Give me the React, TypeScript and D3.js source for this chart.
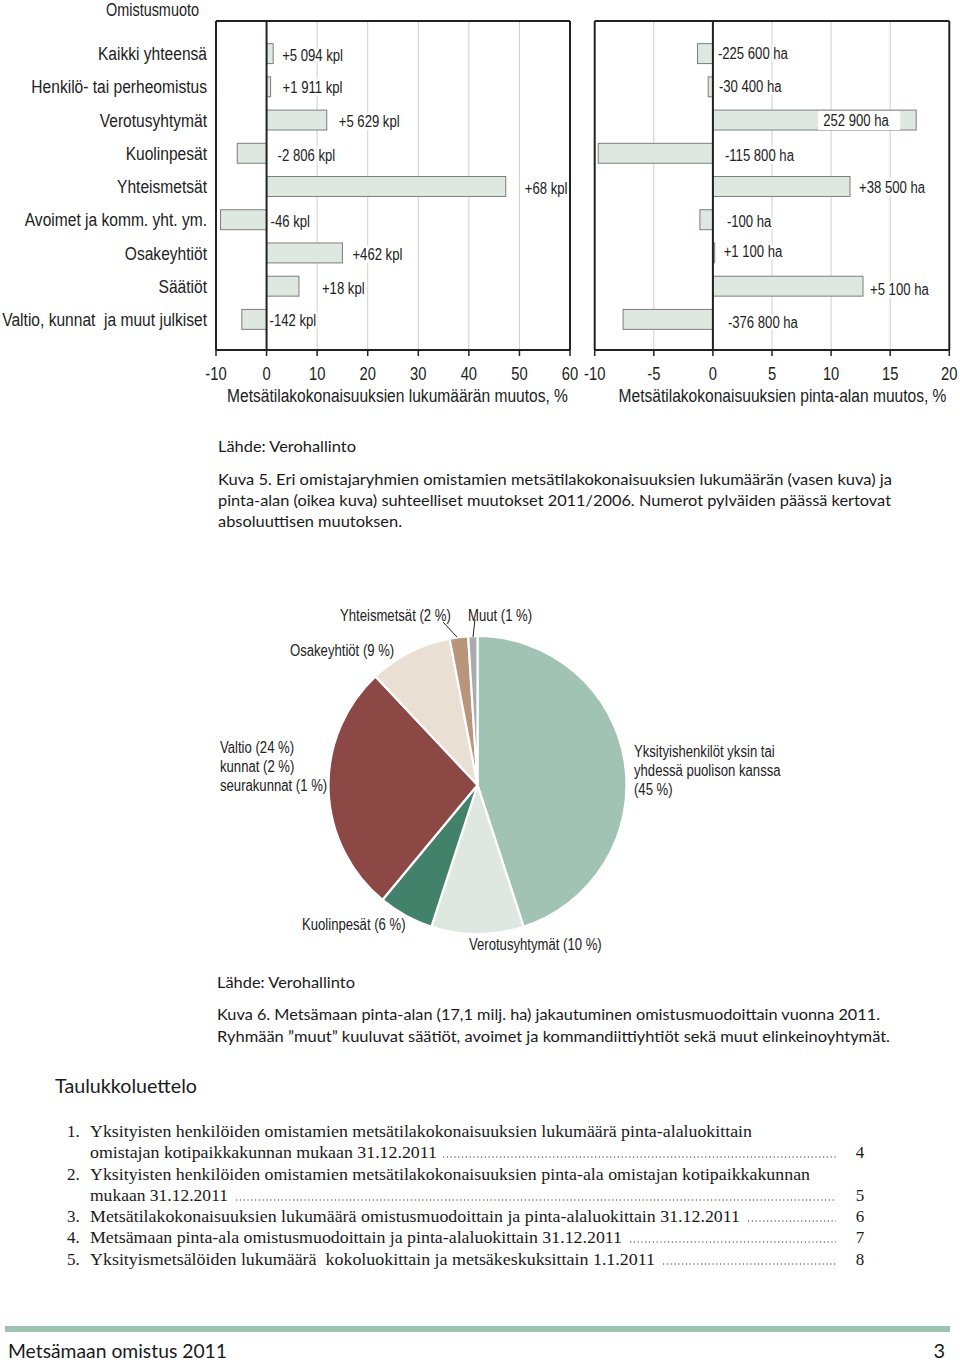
import React from 'react';
import * as d3 from 'd3';

// ---------- DATA ----------
const categories = [
  'Kaikki yhteensä',
  'Henkilö- tai perheomistus',
  'Verotusyhtymät',
  'Kuolinpesät',
  'Yhteismetsät',
  'Avoimet ja komm. yht. ym.',
  'Osakeyhtiöt',
  'Säätiöt',
  'Valtio, kunnat  ja muut julkiset',
];
const countChangePct = [1.3, 0.8, 11.9, -5.8, 47.3, -9.1, 15.0, 6.4, -4.9];
const countChangeLabels = ['+5 094 kpl', '+1 911 kpl', '+5 629 kpl', '-2 806 kpl', '+68 kpl', '-46 kpl', '+462 kpl', '+18 kpl', '-142 kpl'];
const areaChangePct = [-1.3, -0.4, 17.2, -9.7, 11.6, -1.1, 0.15, 12.7, -7.6];
const areaChangeLabels = ['-225 600 ha', '-30 400 ha', '252 900 ha', '-115 800 ha', '+38 500 ha', '-100 ha', '+1 100 ha', '+5 100 ha', '-376 800 ha'];
const countTicks = [-10, 0, 10, 20, 30, 40, 50, 60];
const areaTicks = [-10, -5, 0, 5, 10, 15, 20];

const pieNames = ['Yksityishenkilöt', 'Verotusyhtymät', 'Kuolinpesät', 'Valtio, kunnat, seurakunnat', 'Osakeyhtiöt', 'Yhteismetsät', 'Muut'];
const pieShares = [45, 10, 6, 27, 9, 2, 1];

const listItems = [
  ['1.', 'Yksityisten henkilöiden omistamien metsätilakokonaisuuksien lukumäärä pinta-alaluokittain', 'omistajan kotipaikkakunnan mukaan 31.12.2011', '4'],
  ['2.', 'Yksityisten henkilöiden omistamien metsätilakokonaisuuksien pinta-ala omistajan kotipaikkakunnan', 'mukaan 31.12.2011', '5'],
  ['3.', 'Metsätilakokonaisuuksien lukumäärä omistusmuodoittain ja pinta-alaluokittain 31.12.2011', '', '6'],
  ['4.', 'Metsämaan pinta-ala omistusmuodoittain ja pinta-alaluokittain 31.12.2011', '', '7'],
  ['5.', 'Yksityismetsälöiden lukumäärä  kokoluokittain ja metsäkeskuksittain 1.1.2011', '', '8'],
];

// ---------- STYLE / LAYOUT ----------
const SANS = "'Liberation Sans', Arial, sans-serif";
const NARROW_SX = 0.82;
const HUMAN = "Lato, 'Open Sans', sans-serif";
const SERIF = "'Liberation Serif', 'Times New Roman', serif";
const pieColors = ['#a0c3b3', '#dfe7e1', '#43826a', '#8b4844', '#eadfd3', '#b9957b', '#a9abae'];
const barFill = '#dfe8e0';
const barStroke = '#7d7d7d';
const gridColor = '#cfcfcf';
const axisColor = '#222';

// label nudges (px) relative to bar end (positive) or zero line (negative)
const leftDx = [9, 12, 12, 11, 19, 4, 10, 23, 3];
const leftDy = [2, 1, 1, 2, 1.5, 1.5, 1.3, 2, 1];
const rightDx = [5, 6, -93, 12, 9, 14, 9, 7, 15];
const rightDy = [0, -0.5, 0, 2, 0.5, 1.5, -1.5, 3, 3];

const W = 960;
const H = 1362;
const plotTop = 21;
const plotBottom = 350;

// narrow (condensed) sans text
function N({ x, y, size = 16, anchor, children, halo }: any) {
  return (
    <text transform={`translate(${x},${y}) scale(${NARROW_SX},1)`} dy="0.35em" fontFamily={SANS} fontSize={size}
      fill="#222" textAnchor={anchor} stroke={halo ? '#fff' : 'none'} strokeWidth={halo ? 5 : 0} paintOrder="stroke"
      style={{ whiteSpace: 'pre' }}>
      {children}
    </text>
  );
}

function BarPanel({ x0, x1, ticks, values, labels, dx, dy, title, titleX, insideIdx }: any) {
  const x = d3.scaleLinear().domain([ticks[0], ticks[ticks.length - 1]]).range([x0, x1]);
  const y = d3.scaleBand<string>().domain(categories).range([37, 336]).paddingInner(0.4).paddingOuter(0.2);
  const bw = y.bandwidth();
  const zero = x(0);
  return (
    <g>
      {ticks.slice(1, -1).filter((t: number) => t !== 0).map((t: number) => (
        <line key={'g' + t} x1={x(t)} x2={x(t)} y1={plotTop} y2={plotBottom} stroke={gridColor} strokeWidth={1} />
      ))}
      {values.map((v: number, i: number) => {
        const c = categories[i];
        const xa = Math.min(x(v), zero);
        const w = Math.abs(x(v) - zero);
        return <rect key={'b' + i} x={xa} y={y(c)} width={Math.max(w, 0.6)} height={bw} fill={barFill} stroke={barStroke} strokeWidth={1} />;
      })}
      {values.map((v: number, i: number) => {
        const c = categories[i];
        const lx = (v > 0 ? x(v) : zero) + dx[i];
        const ly = (y(c) as number) + bw / 2 + dy[i];
        const inside = i === insideIdx;
        return (
          <g key={'l' + i}>
            {inside && <rect x={lx - 5} y={(y(c) as number) + 1} width={82} height={bw - 1} fill="#fff" />}
            <N x={lx} y={ly} size={16} halo={!inside}>{labels[i]}</N>
          </g>
        );
      })}
      {/* frame */}
      <line x1={x0} x2={x1} y1={plotTop} y2={plotTop} stroke={axisColor} strokeWidth={2} />
      <line x1={x0} x2={x0} y1={plotTop} y2={plotBottom} stroke={axisColor} strokeWidth={2} />
      <line x1={x1} x2={x1} y1={plotTop} y2={plotBottom} stroke={axisColor} strokeWidth={2} />
      <line x1={zero} x2={zero} y1={plotTop} y2={plotBottom} stroke={axisColor} strokeWidth={2} />
      <line x1={x0} x2={x1} y1={plotBottom} y2={plotBottom} stroke={axisColor} strokeWidth={2} />
      {ticks.map((t: number) => (
        <g key={'t' + t}>
          <line x1={x(t)} x2={x(t)} y1={plotBottom} y2={plotBottom + 6} stroke={axisColor} strokeWidth={1.5} />
          <N x={x(t)} y={374} size={18} anchor="middle">{t}</N>
        </g>
      ))}
      <N x={titleX} y={395} size={19} anchor="middle">{title}</N>
    </g>
  );
}

function Pie() {
  const cx = 477.5;
  const cy = 785;
  const r = 149;
  const arcs = d3.pie<number>().sort(null).value((d) => d)(pieShares);
  const arc = d3.arc<any>().innerRadius(0).outerRadius(r);
  return (
    <g>
      <g transform={`translate(${cx},${cy})`}>
        {arcs.map((a, i) => (
          <path key={pieNames[i]} d={arc(a) as string} fill={pieColors[i]} stroke="#fff" strokeWidth={2.2} strokeLinejoin="round" />
        ))}
      </g>
      <N x={340} y={615}>Yhteismetsät (2 %)</N>
      <N x={468} y={615}>Muut (1 %)</N>
      <line x1={443} y1={622} x2={457} y2={637} stroke="#222" strokeWidth={1} />
      <line x1={475} y1={619} x2={473} y2={637} stroke="#222" strokeWidth={1} />
      <N x={290} y={650}>Osakeyhtiöt (9 %)</N>
      <N x={220} y={747}>Valtio (24 %)</N>
      <N x={220} y={766}>kunnat (2 %)</N>
      <N x={220} y={785}>seurakunnat (1 %)</N>
      <N x={634} y={751}>Yksityishenkilöt yksin tai</N>
      <N x={634} y={770}>yhdessä puolison kanssa</N>
      <N x={634} y={789}>(45 %)</N>
      <N x={302} y={924}>Kuolinpesät (6 %)</N>
      <N x={469} y={944}>Verotusyhtymät (10 %)</N>
    </g>
  );
}

function T({ x, y, len, size = 16, fam = HUMAN, children, anchor }: any) {
  return (
    <text x={x} y={y} dy="0.35em" fontFamily={fam} fontSize={size} fill="#1a1a1a" textAnchor={anchor}
      textLength={len} lengthAdjust={len ? 'spacingAndGlyphs' : undefined} style={{ whiteSpace: 'pre' }}>
      {children}
    </text>
  );
}

export default function App() {
  const yCat = d3.scaleBand<string>().domain(categories).range([37, 336]).paddingInner(0.4).paddingOuter(0.2);
  const listRows = [
    { y: 1131, text: listItems[0][1], len: 662, num: '1.' },
    { y: 1152, text: listItems[0][2], len: 347, dots: [443, 836], page: listItems[0][3] },
    { y: 1174, text: listItems[1][1], len: 720, num: '2.' },
    { y: 1195, text: listItems[1][2], len: 138, dots: [236, 836], page: listItems[1][3] },
    { y: 1216, text: listItems[2][1], len: 650, num: '3.', dots: [748, 836], page: listItems[2][3] },
    { y: 1237, text: listItems[3][1], len: 532, num: '4.', dots: [630, 836], page: listItems[3][3] },
    { y: 1259, text: listItems[4][1], len: 565, num: '5.', dots: [663, 836], page: listItems[4][3] },
  ];
  return (
    <svg width={W} height={H} viewBox={`0 0 ${W} ${H}`} style={{ position: 'absolute', left: 0, top: 0, background: '#fff' }}>
      <rect x={0} y={0} width={W} height={H} fill="#fff" />
      <N x={106} y={9.5} size={17.6}>Omistusmuoto</N>
      {categories.map((c) => (
        <N key={c} x={207} y={(yCat(c) as number) + yCat.bandwidth() / 2} size={19} anchor="end">{c}</N>
      ))}
      <BarPanel x0={216} x1={570} ticks={countTicks} values={countChangePct} labels={countChangeLabels}
        dx={leftDx} dy={leftDy} title="Metsätilakokonaisuuksien lukumäärän muutos, %" titleX={397.5} insideIdx={-1} />
      <BarPanel x0={594.7} x1={949.3} ticks={areaTicks} values={areaChangePct} labels={areaChangeLabels}
        dx={rightDx} dy={rightDy} title="Metsätilakokonaisuuksien pinta-alan muutos, %" titleX={782.5} insideIdx={2} />

      <T x={218} y={446} len={138}>Lähde: Verohallinto</T>
      <T x={218} y={479} len={674}>Kuva 5. Eri omistajaryhmien omistamien metsätilakokonaisuuksien lukumäärän (vasen kuva) ja</T>
      <T x={218} y={500} len={673}>pinta-alan (oikea kuva) suhteelliset muutokset 2011/2006. Numerot pylväiden päässä kertovat</T>
      <T x={218} y={521} len={184}>absoluuttisen muutoksen.</T>

      <Pie />

      <T x={217} y={982} len={138}>Lähde: Verohallinto</T>
      <T x={217} y={1014} len={663}>Kuva 6. Metsämaan pinta-alan (17,1 milj. ha) jakautuminen omistusmuodoittain vuonna 2011.</T>
      <T x={217} y={1036} len={673}>Ryhmään ”muut” kuuluvat säätiöt, avoimet ja kommandiittiyhtiöt sekä muut elinkeinoyhtymät.</T>

      <T x={55} y={1086} len={142} size={20}>Taulukkoluettelo</T>
      {listRows.map((r, i) => (
        <g key={'li' + i}>
          {r.num && <T x={67} y={r.y} size={17} fam={SERIF}>{r.num}</T>}
          <T x={90} y={r.y} len={r.len} size={17} fam={SERIF}>{r.text}</T>
          {r.dots && (
            <line x1={r.dots[0]} x2={r.dots[1]} y1={r.y + 5} y2={r.y + 5} stroke="#333" strokeWidth={1.2} strokeDasharray="1.2,2.6" />
          )}
          {r.page && <T x={860} y={r.y} size={17} fam={SERIF} anchor="middle">{r.page}</T>}
        </g>
      ))}

      <rect x={5} y={1326} width={945} height={6} fill="#9dc3b3" />
      <T x={8} y={1351} len={219} size={20}>Metsämaan omistus 2011</T>
      <T x={945} y={1351} size={20} anchor="end">3</T>
    </svg>
  );
}
